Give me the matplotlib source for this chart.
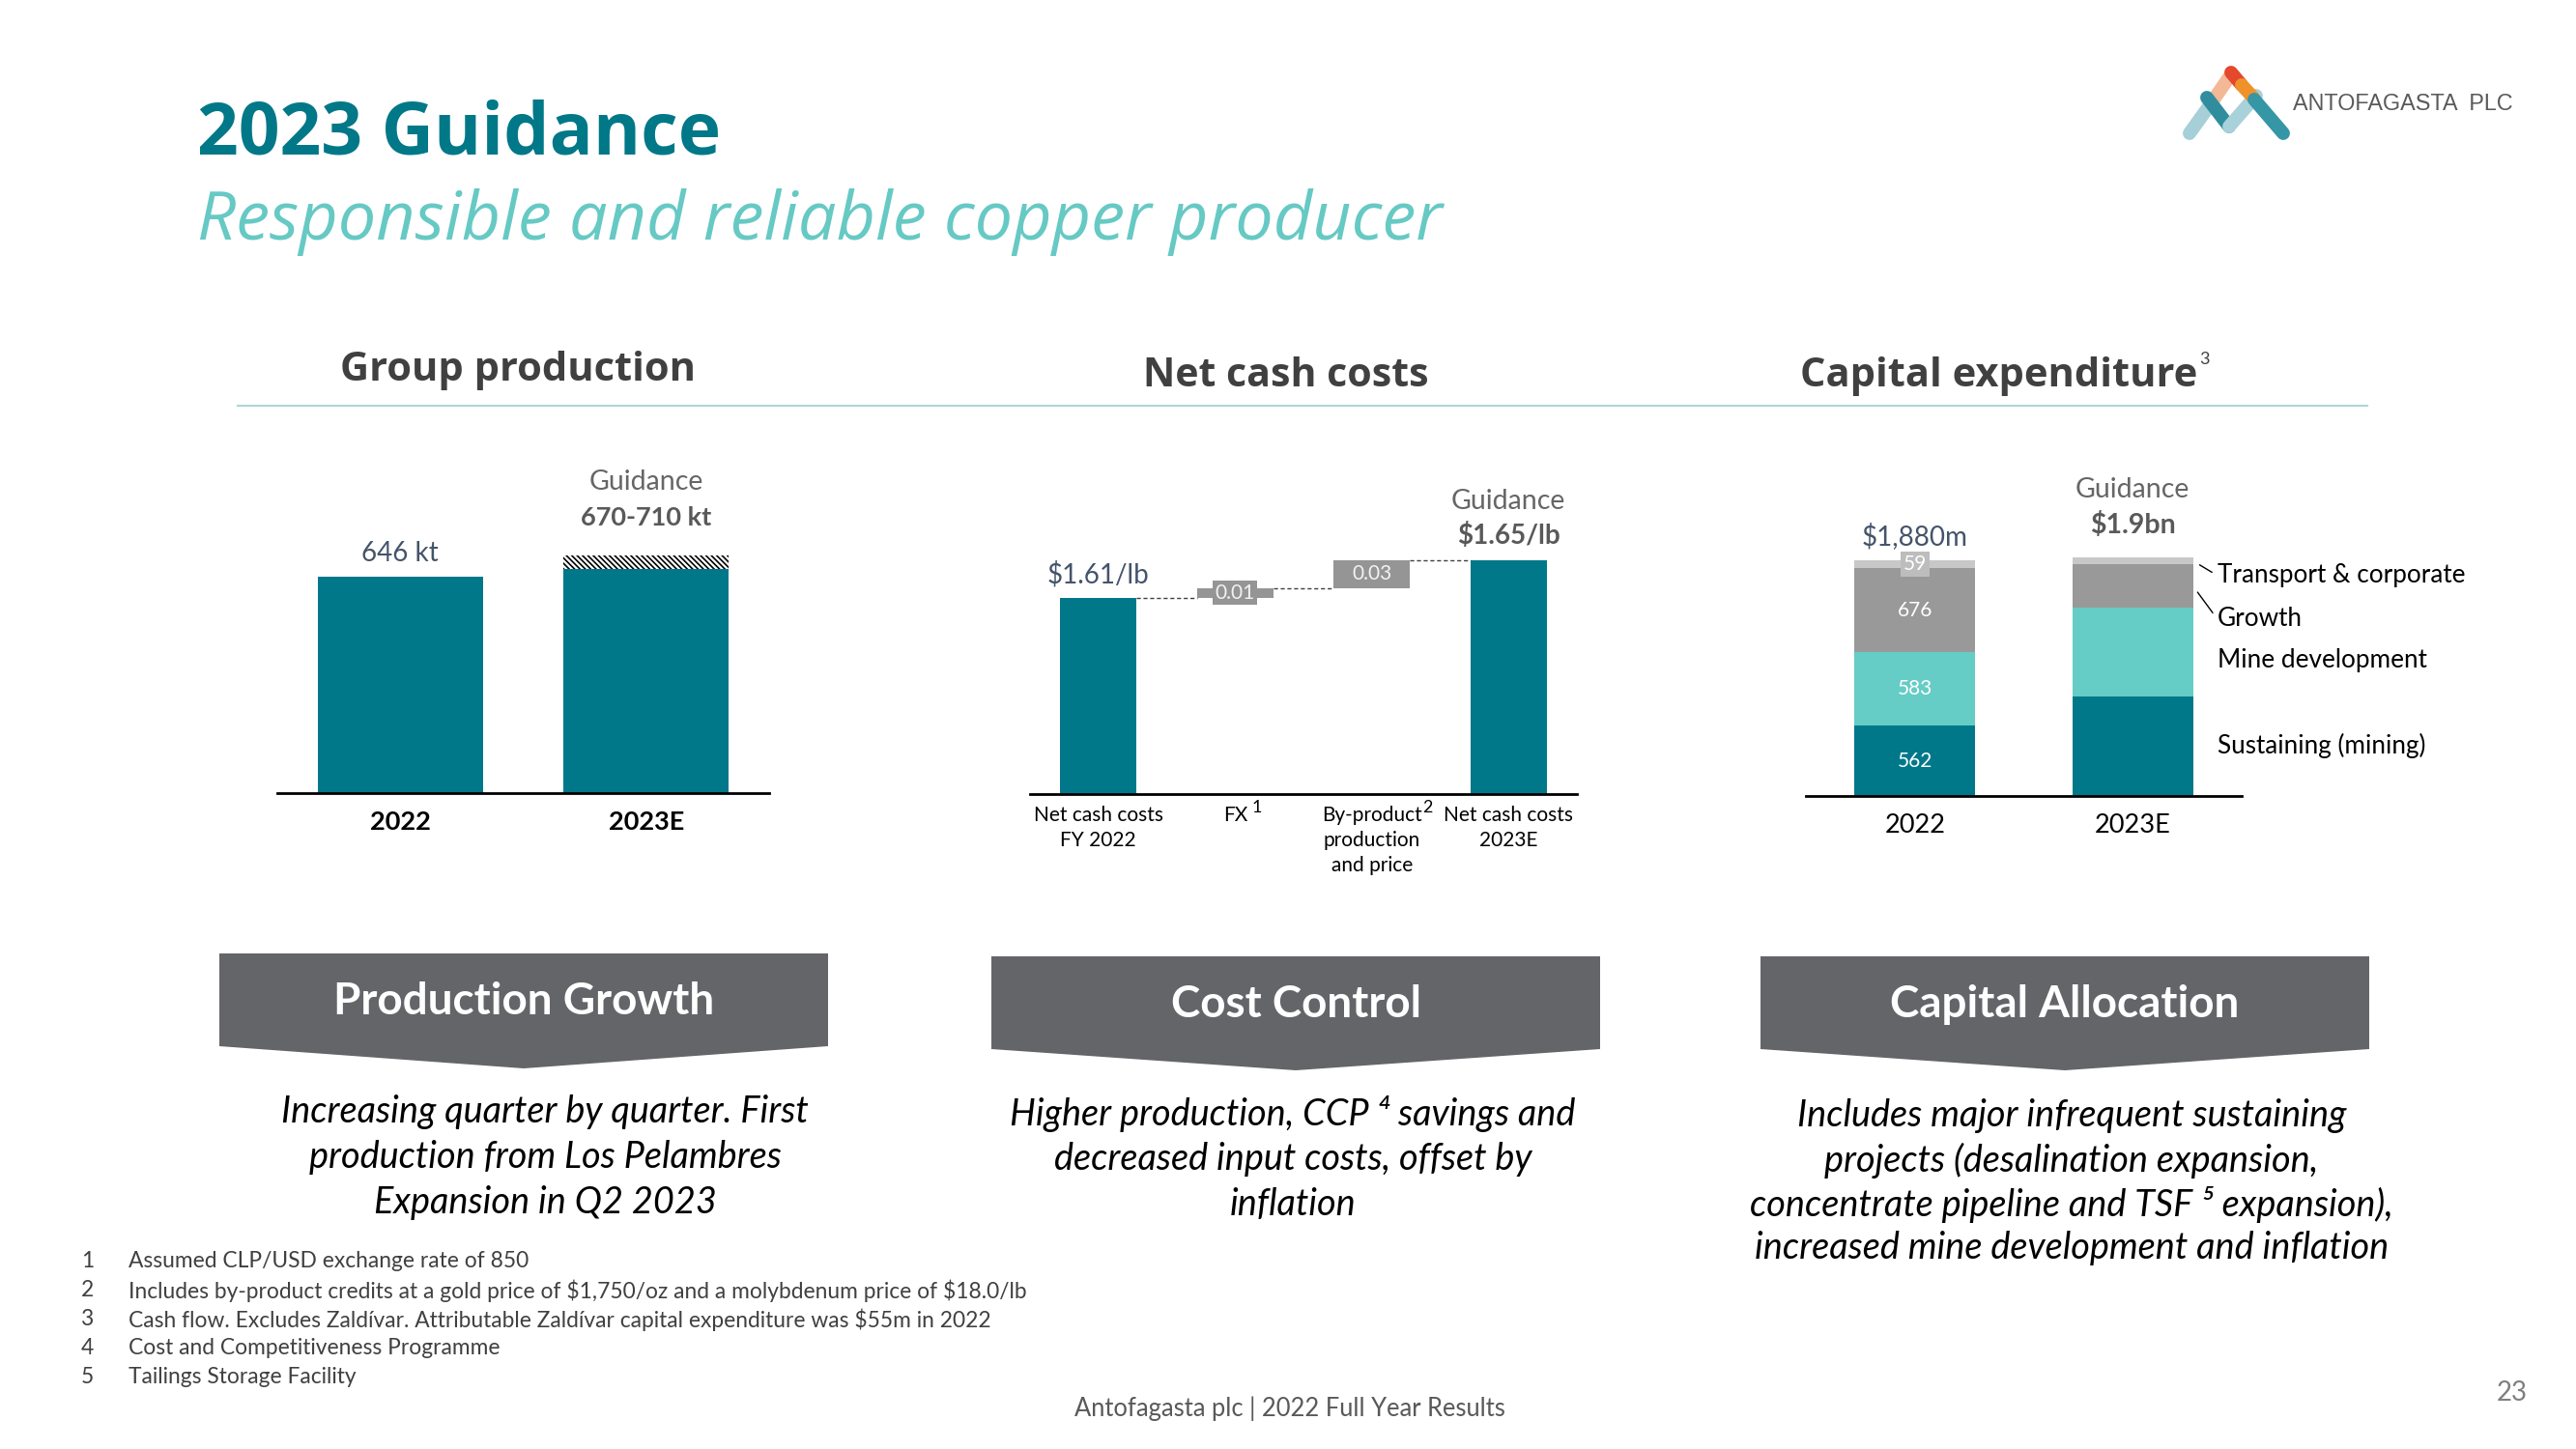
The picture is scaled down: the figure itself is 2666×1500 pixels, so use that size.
import matplotlib
matplotlib.use('Agg')
import matplotlib.pyplot as plt
from matplotlib.patches import Polygon
import numpy as np

plt.rcParams['font.family'] = ['Lato', 'DejaVu Sans']
plt.rcParams['hatch.linewidth'] = 1.2

# data
prod_years = ['2022', '2023E']
prod_values = [646, 670]
prod_guidance_high = 710

cost_labels = ['Net cash costs\nFY 2022', 'FX', 'By-product\nproduction\nand price', 'Net cash costs\n2023E']
cost_start = 1.61
cost_steps = [0.01, 0.03]
cost_end = 1.65
cost_axis_base = 1.40

capex_years = ['2022', '2023E']
capex_series = ['Sustaining (mining)', 'Mine development', 'Growth', 'Transport & corporate']
capex_2022 = [562, 583, 676, 59]
capex_2023 = [795, 705, 350, 50]

banner_titles = ['Production Growth', 'Cost Control', 'Capital Allocation']
banner_texts = [
    ['Increasing quarter by quarter. First', 'production from Los Pelambres', 'Expansion in Q2 2023'],
    ['Higher production, CCP \u2074 savings and', 'decreased input costs, offset by', 'inflation'],
    ['Includes major infrequent sustaining', 'projects (desalination expansion,',
     'concentrate pipeline and TSF \u2075 expansion),', 'increased mine development and inflation'],
]
footnotes = [
    'Assumed CLP/USD exchange rate of 850',
    'Includes by-product credits at a gold price of $1,750/oz and a molybdenum price of $18.0/lb',
    'Cash flow. Excludes Zald\u00edvar. Attributable Zald\u00edvar capital expenditure was $55m in 2022',
    'Cost and Competitiveness Programme',
    'Tailings Storage Facility',
]

# colours
TEAL = '#00788A'
TURQ = '#66CCC6'
GREY = '#999999'
LGREY = '#C8C8C8'
BAR_GREY = '#959595'
BANNER = '#646569'
SLATE = '#44546A'
HEAD = '#404040'

W, H = 2666, 1500
fig = plt.figure(figsize=(W / 100, H / 100), dpi=100)

def pt(px):
    return px * 72 / 100

def px_axes(left, top, right, bottom):
    return fig.add_axes([left / W, 1 - bottom / H, (right - left) / W, (bottom - top) / H])

def clean(ax):
    for s in ['top', 'left', 'right']:
        ax.spines[s].set_visible(False)
    ax.spines['bottom'].set_linewidth(2)
    ax.spines['bottom'].set_color('black')
    ax.set_yticks([])
    ax.tick_params(axis='x', length=0)
    ax.patch.set_alpha(0)

# background canvas in pixel units (titles, banners, logo)
cv = fig.add_axes([0, 0, 1, 1])
cv.set_xlim(0, W)
cv.set_ylim(H, 0)
cv.axis('off')

cv.text(204, 160, '2023 Guidance', fontsize=54, weight='bold', color='#007888',
        family='Open Sans', va='baseline')
cv.text(204, 248, 'Responsible and reliable copper producer', fontsize=50.5, style='italic',
        color='#66C9C4', family='Open Sans', va='baseline')

# logo
logo = [
    ((2266, 138), (2289, 106), '#A6CFD8'),
    ((2289, 106), (2309, 77), '#F3B896'),
    ((2284, 101), (2307, 131), '#2F8D9D'),
    ((2307, 131), (2335, 99), '#A9D1DA'),
    ((2309, 75), (2320, 88), '#E4492D'),
    ((2320, 88), (2332, 101), '#F0922A'),
    ((2333, 103), (2363, 138), '#3596A6'),
]
for (x0, y0), (x1, y1), c in logo:
    cv.plot([x0, x1], [y0, y1], color=c, lw=10, solid_capstyle='round')
cv.text(2373, 107, 'ANTOFAGASTA  PLC', fontsize=16.8, color='#5A5A5A',
        family='Liberation Sans', va='center')

# section headers
cv.text(536, 383, 'Group production', fontsize=30, weight='bold', color=HEAD,
        family='Open Sans', ha='center', va='center')
cv.text(1331, 389, 'Net cash costs', fontsize=29.5, weight='bold', color=HEAD,
        family='Open Sans', ha='center', va='center')
cv.text(2069, 389, 'Capital expenditure', fontsize=30, weight='bold', color=HEAD,
        family='Open Sans', ha='center', va='center')
cv.text(2276, 372, '3', fontsize=13, color=HEAD, ha='left', va='center')
cv.plot([246, 2450], [420, 420], color='#A8D8D3', lw=1.5)

# ---- Group production
ax1 = px_axes(287, 421, 796, 821)
x1 = np.arange(len(prod_years))
ax1.bar(x1, prod_values, width=0.67, color=TEAL)
ax1.bar(x1[1], prod_guidance_high - prod_values[1], bottom=prod_values[1], width=0.67,
        color='white', edgecolor='black', hatch='\\\\\\\\\\\\', linewidth=0)
ax1.set_xlim(-0.5, 1.5)
ax1.set_ylim(0, 1154)
clean(ax1)
ax1.set_xticks(x1, prod_years, fontsize=19.5, weight='bold')
ax1.tick_params(axis='x', pad=pt(18))
ax1.annotate(f'{prod_values[0]} kt', (0, prod_values[0]), xytext=(0, pt(24)),
             textcoords='offset points', ha='center', va='center', fontsize=20, color=SLATE)
ax1.annotate('Guidance', (1, prod_guidance_high), xytext=(0, pt(76)),
             textcoords='offset points', ha='center', va='center', fontsize=20.5, color='#666666')
ax1.annotate(f'{prod_values[1]}-{prod_guidance_high} kt', (1, prod_guidance_high), xytext=(0, pt(39)),
             textcoords='offset points', ha='center', va='center', fontsize=19.5,
             weight='bold', color='#595959')

# ---- Net cash costs
ax2 = px_axes(1066, 422, 1632, 822)
bw = 0.56
ax2.bar(0, cost_start - cost_axis_base, bottom=cost_axis_base, width=bw, color=TEAL)
levels = [cost_start]
for i, step in enumerate(cost_steps):
    ax2.bar(i + 1, step, bottom=levels[-1], width=bw, color=BAR_GREY)
    levels.append(levels[-1] + step)
ax2.bar(3, cost_end - cost_axis_base, bottom=cost_axis_base, width=bw, color=TEAL)
for i, lv in enumerate(levels):
    ax2.plot([i + bw / 2, i + 1 - bw / 2], [lv, lv], color='#404040', lw=1, ls=(0, (3, 2)))
ax2.set_xlim(-0.5, 3.5)
ax2.set_ylim(cost_axis_base, cost_axis_base + 400 / 969)
clean(ax2)
ax2.set_xticks(range(4), cost_labels, fontsize=15, linespacing=1.38)
ax2.tick_params(axis='x', pad=pt(12))
ax2.text(1, levels[0] + cost_steps[0] / 2, f'{cost_steps[0]:.2f}', ha='center', va='center',
         fontsize=15, color='#F2F2F2',
         bbox=dict(boxstyle='square,pad=0.12', fc=BAR_GREY, ec='none'))
ax2.text(2, levels[1] + cost_steps[1] / 2, f'{cost_steps[1]:.2f}', ha='center', va='center',
         fontsize=15, color='#F2F2F2')
ax2.annotate(f'${cost_start:.2f}/lb', (0, cost_start), xytext=(0, pt(24)),
             textcoords='offset points', ha='center', va='center', fontsize=20, color=SLATE)
ax2.annotate('Guidance', (3, cost_end), xytext=(0, pt(61)),
             textcoords='offset points', ha='center', va='center', fontsize=20.5, color='#666666')
ax2.annotate(f'${cost_end:.2f}/lb', (3, cost_end), xytext=(0, pt(25)),
             textcoords='offset points', ha='center', va='center', fontsize=20,
             weight='bold', color='#595959')
for xi, sup, dx in [(1, '1', 22), (2, '2', 58)]:
    ax2.annotate(sup, (xi, 0), xycoords=('data', 'axes fraction'), xytext=(pt(dx), pt(-14)),
                 textcoords='offset points', ha='center', va='center', fontsize=13)

# ---- Capital expenditure
ax3 = px_axes(1869, 424, 2320, 824)
x3 = np.arange(len(capex_years))
cw = 0.553
colors3 = [TEAL, TURQ, GREY, LGREY]
stack = np.array([capex_2022, capex_2023])
bottoms = np.zeros(2)
for j, name in enumerate(capex_series):
    ax3.bar(x3, stack[:, j], bottom=bottoms, width=cw, color=colors3[j])
    if j < 3:
        ax3.text(0, bottoms[0] + stack[0, j] / 2, str(stack[0, j]), ha='center', va='center',
                 fontsize=15, color='white')
    else:
        ax3.text(0, bottoms[0] + stack[0, j] / 2, str(stack[0, j]), ha='center', va='center',
                 fontsize=15, color='white',
                 bbox=dict(boxstyle='square,pad=0.15', fc='#BDBDBD', ec='none'))
    bottoms = bottoms + stack[:, j]
ax3.set_xlim(-0.5, 1.5)
ax3.set_ylim(0, 3082)
clean(ax3)
ax3.set_xticks(x3, capex_years, fontsize=19.5)
ax3.tick_params(axis='x', pad=pt(18))
tot22, tot23 = stack.sum(axis=1)
ax3.annotate(f'${tot22:,}m', (0, tot22), xytext=(0, pt(25)), textcoords='offset points',
             ha='center', va='center', fontsize=20, color=SLATE)
ax3.annotate('Guidance', (1, tot23), xytext=(0, pt(70)), textcoords='offset points',
             ha='center', va='center', fontsize=20.5, color='#666666')
ax3.annotate(f'${tot23 / 1000:.1f}bn', (1, tot23), xytext=(0, pt(34)), textcoords='offset points',
             ha='center', va='center', fontsize=20.5, weight='bold', color='#595959')
seg_mid = np.cumsum(capex_2023) - np.array(capex_2023) / 2
label_dy = [0, -8, -34, -15]
for j, name in enumerate(capex_series):
    kw = {}
    if j >= 2:
        kw['arrowprops'] = dict(arrowstyle='-', color='black', lw=1, relpos=(0, 0.5),
                                shrinkA=pt(3), shrinkB=pt(8))
    ax3.annotate(name, (1 + cw / 2, seg_mid[j]), xytext=(pt(25), pt(label_dy[j])),
                 textcoords='offset points', ha='left', va='center', fontsize=18.8,
                 color='black', **kw)

# ---- banners
banners = [(227, 857, 987, 1083, 1106), (1026, 1656, 990, 1086, 1108), (1822, 2452, 990, 1086, 1108)]
text_x = [564, 1338, 2144]
text_y = [[1151, 1198, 1245], [1153, 1200, 1247], [1155, 1201, 1247, 1292]]
for k, (l, r, t, sb, pb) in enumerate(banners):
    xc = (l + r) / 2
    cv.add_patch(Polygon([(l, t), (r, t), (r, sb), (xc, pb), (l, sb)], closed=True,
                         fc=BANNER, ec='none'))
    cv.text(xc, (t + sb) / 2 + 2, banner_titles[k], fontsize=33, weight='bold', color='white',
            ha='center', va='center')
    for line, yy in zip(banner_texts[k], text_y[k]):
        cv.text(text_x[k], yy, line, fontsize=27.3, style='italic', color='black',
                ha='center', va='center')

# footnotes
for i, note in enumerate(footnotes):
    yy = 1306 + i * 30
    cv.text(84, yy, str(i + 1), fontsize=16.4, color=HEAD, va='center')
    cv.text(133, yy, note, fontsize=16.4, color=HEAD, va='center', parse_math=False)

cv.text(1335, 1458, 'Antofagasta plc | 2022 Full Year Results', fontsize=18.4, color='#595959',
        ha='center', va='center')
cv.text(2600, 1442, '23', fontsize=20, color='#7F7F7F', ha='center', va='center')

fig.savefig('out.png', dpi=100)
